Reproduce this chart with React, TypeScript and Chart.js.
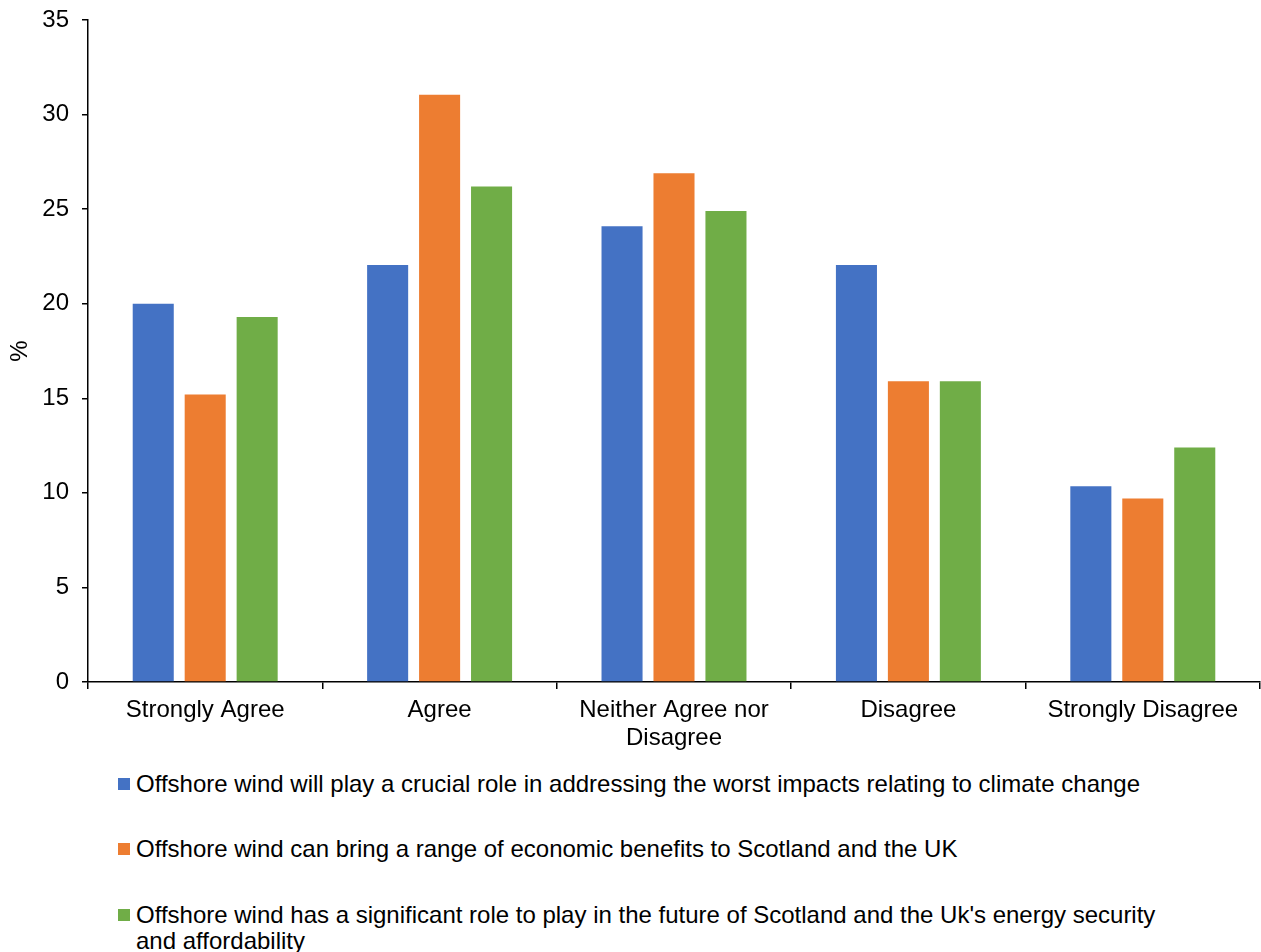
import React, { useEffect, useRef } from "react";
import { Chart, registerables } from "chart.js";

Chart.register(...registerables);

const categories: (string | string[])[] = [
  "Strongly Agree",
  "Agree",
  ["Neither Agree nor", "Disagree"],
  "Disagree",
  "Strongly Disagree",
];
const climateRole = [20, 22.05, 24.1, 22.05, 10.35];
const economicBenefits = [15.2, 31.05, 26.9, 15.9, 9.7];
const energySecurity = [19.3, 26.2, 24.9, 15.9, 12.4];
const seriesNames = [
  "Offshore wind will play a crucial role in addressing the worst impacts relating to climate change",
  "Offshore wind can bring a range of economic benefits to Scotland and the UK",
  "Offshore wind has a significant role to play in the future of Scotland and the Uk's energy security and affordability",
];
const seriesColors = ["#4472C4", "#ED7D31", "#70AD47"];
const yTicksMax = 35;

const FONT = "'Liberation Sans', Arial, sans-serif";

export default function App() {
  const ref = useRef<HTMLCanvasElement | null>(null);
  useEffect(() => {
    if (!ref.current) return;
    const chart = new Chart(ref.current, {
      type: "bar",
      data: {
        labels: categories,
        datasets: [climateRole, economicBenefits, energySecurity].map((d, i) => ({
          label: seriesNames[i],
          data: d,
          backgroundColor: seriesColors[i],
          borderWidth: 0,
          categoryPercentage: 0.665,
          barPercentage: 0.79,
        })),
      },
      options: {
        animation: false,
        responsive: false,
        maintainAspectRatio: false,
        layout: { padding: { top: 20, right: 1, left: 0, bottom: 0 } },
        plugins: { legend: { display: false }, tooltip: { enabled: false } },
        scales: {
          x: {
            grid: {
              display: true,
              drawOnChartArea: false,
              drawTicks: true,
              tickLength: 7,
              color: "#000",
              lineWidth: 1.5,
            },
            border: { display: true, color: "#000", width: 1.5 },
            ticks: {
              color: "#000",
              font: { family: FONT, size: 24, lineHeight: 1.17 },
              padding: 7,
              maxRotation: 0,
              autoSkip: false,
            },
            afterFit: (s: any) => {
              s.height = 78;
              s.paddingLeft = 0;
              s.paddingRight = 0;
            },
          },
          y: {
            min: 0,
            max: yTicksMax,
            grid: {
              display: true,
              drawOnChartArea: false,
              drawTicks: true,
              tickLength: 6,
              color: "#000",
              lineWidth: 1.5,
            },
            border: { display: true, color: "#000", width: 1.5 },
            ticks: {
              stepSize: 5,
              color: "#000",
              font: { family: FONT, size: 24 },
              padding: 13,
            },
            title: {
              display: true,
              text: "%",
              color: "#000",
              font: { family: FONT, size: 24 },
              padding: { top: 6, bottom: 0 },
            },
            afterFit: (s: any) => {
              s.width = 88;
              s.paddingTop = 0;
              s.paddingBottom = 0;
            },
          },
        },
      },
    });
    return () => chart.destroy();
  }, []);

  const rowTops = [771, 836, 902];
  return (
    <div style={{ position: "absolute", left: 0, top: 0, width: 1261, height: 952, background: "#fff", overflow: "hidden" }}>
      <canvas ref={ref} width={1261} height={760} style={{ position: "absolute", left: 0, top: 0 }} />
      {seriesNames.map((name, i) => (
        <div
          key={i}
          style={{
            position: "absolute",
            left: 118,
            top: rowTops[i],
            width: 1100,
            fontFamily: FONT,
            fontSize: 24,
            lineHeight: "26px",
            color: "#000",
          }}
        >
          <span
            style={{
              position: "absolute",
              left: 0,
              top: 7,
              width: 12,
              height: 12,
              background: seriesColors[i],
            }}
          />
          <div style={{ marginLeft: 18, width: 1040 }}>{name}</div>
        </div>
      ))}
    </div>
  );
}
